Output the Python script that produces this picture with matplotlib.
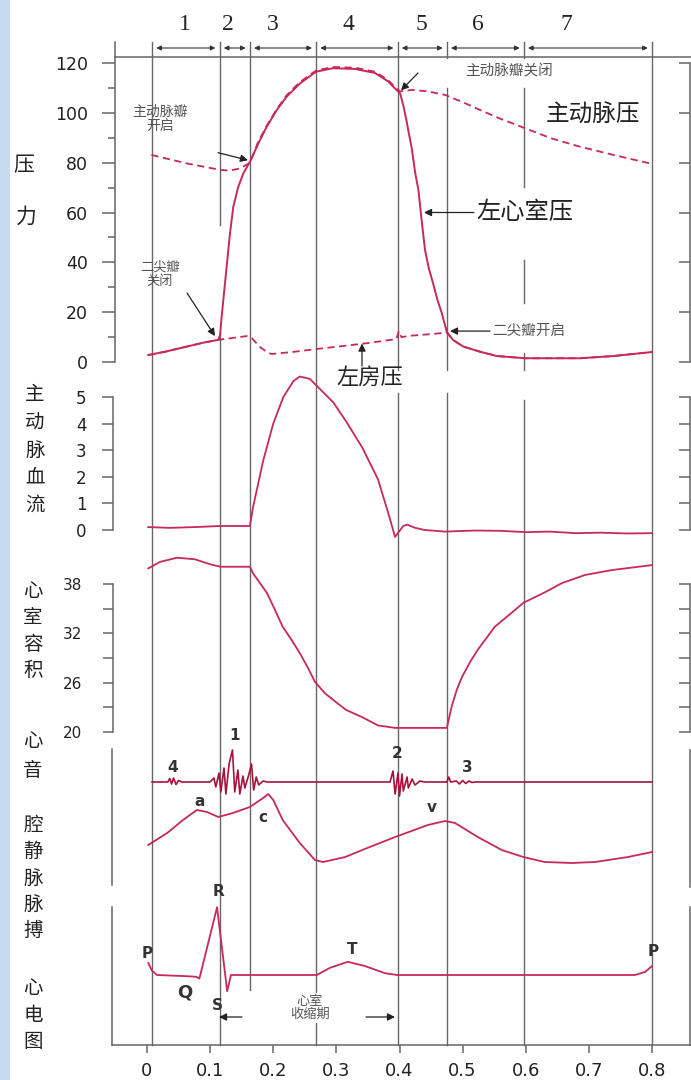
import matplotlib
matplotlib.use("Agg")
import matplotlib.pyplot as plt
from matplotlib.patches import Rectangle

plt.rcParams['font.family'] = ['DejaVu Sans', 'Noto Sans CJK SC']
CJK = ['Noto Sans CJK SC', 'DejaVu Sans']
SERIF = ['Liberation Serif', 'DejaVu Serif']

W, H, DPI = 691, 1080, 100
X0, XS = 147.0, 631.25          # pixel column of t = 0 s, pixels per second
T_LEFT, T_RIGHT = -X0 / XS, (W - X0) / XS


def tx(px):
    """pixel column -> time (s)"""
    return (px - X0) / XS


# ------------------------------------------------------------------ data
phase_bounds = [0.008, 0.115, 0.163, 0.268, 0.397, 0.475, 0.597, 0.800]
phase_labels = ['1', '2', '3', '4', '5', '6', '7']
time_ticks = [0.0, 0.1, 0.2, 0.3, 0.4, 0.5, 0.6, 0.7, 0.8]
pressure_ticks = [0, 20, 40, 60, 80, 100, 120]
pressure_minor = [10, 30, 50, 70, 90, 110]
flow_ticks = [0, 1, 2, 3, 4, 5]
volume_ticks = [20, 26, 32, 38]
volume_minor = [23, 29, 35]

# left ventricular pressure (mmHg)
lv_t = [0.002, 0.030, 0.060, 0.090, 0.113, 0.1157, 0.1183, 0.1220, 0.1262, 0.1315,
        0.1367, 0.1447, 0.1526, 0.1632, 0.1764, 0.1896, 0.2055, 0.2213, 0.2424, 0.2677,
        0.2947, 0.330, 0.361, 0.381, 0.392, 0.401, 0.406, 0.411, 0.415, 0.419,
        0.425, 0.430, 0.435, 0.4404, 0.4465, 0.4531, 0.460, 0.4669, 0.475, 0.485,
        0.501, 0.528, 0.554, 0.599, 0.686, 0.739, 0.800]
lv_p = [2.8, 4.2, 6.0, 7.8, 8.9, 10.8, 18.2, 27.7, 38.3, 51.7,
        62.3, 70.4, 75.7, 80.4, 87.7, 94.4, 101.1, 106.5, 111.8, 116.5,
        117.9, 117.6, 116.0, 112.8, 110.0, 107.8, 103.0, 97.0, 91.5, 86.4,
        75.7, 69.0, 57.0, 45.0, 37.5, 31.7, 25.0, 19.7, 12.0, 8.8,
        6.2, 4.1, 2.4, 1.5, 1.5, 2.4, 4.0]

# aortic pressure (mmHg)
ao_t = [0.007, 0.063, 0.116, 0.131, 0.147, 0.163, 0.176, 0.190, 0.206, 0.221,
        0.242, 0.268, 0.295, 0.330, 0.361, 0.381, 0.392, 0.401, 0.420, 0.445,
        0.472, 0.500, 0.528, 0.560, 0.599, 0.640, 0.686, 0.739, 0.800]
ao_p = [83.1, 79.7, 77.1, 76.8, 77.7, 79.9, 88.3, 95.0, 101.6, 107.0,
        112.3, 117.0, 118.4, 118.1, 116.5, 113.3, 110.6, 108.6, 109.2, 108.6,
        107.2, 104.3, 101.1, 97.6, 93.8, 89.8, 86.4, 83.1, 79.5]

# left atrial pressure (mmHg)
la_t = [0.002, 0.030, 0.060, 0.090, 0.113, 0.140, 0.158, 0.166, 0.179, 0.190,
        0.197, 0.230, 0.268, 0.310, 0.350, 0.395, 0.399, 0.403, 0.420, 0.450,
        0.475, 0.485, 0.501, 0.528, 0.554, 0.599, 0.686, 0.739, 0.800]
la_p = [2.8, 4.2, 6.0, 7.8, 8.9, 9.8, 10.4, 9.6, 6.0, 4.0,
        3.2, 4.0, 5.2, 6.4, 7.6, 9.2, 12.4, 10.0, 10.6, 11.2,
        11.8, 8.8, 6.2, 4.1, 2.4, 1.5, 1.5, 2.4, 4.0]

# aortic blood flow
flow_t = [0.002, 0.036, 0.076, 0.116, 0.163, 0.168, 0.184, 0.200, 0.216, 0.232,
          0.242, 0.258, 0.274, 0.295, 0.315, 0.341, 0.366, 0.382, 0.393, 0.398,
          0.406, 0.412, 0.425, 0.440, 0.472, 0.520, 0.559, 0.600, 0.638, 0.680,
          0.718, 0.760, 0.800]
flow_v = [0.11, 0.08, 0.11, 0.15, 0.15, 0.86, 2.6, 4.0, 5.0, 5.6,
          5.77, 5.68, 5.3, 4.8, 4.1, 3.1, 1.9, 0.65, -0.26, -0.1,
          0.15, 0.2, 0.08, 0.0, -0.06, -0.02, -0.03, -0.08, -0.06, -0.12,
          -0.1, -0.13, -0.12]

# ventricular volume
vol_t = [0.002, 0.021, 0.048, 0.076, 0.100, 0.116, 0.163, 0.168, 0.179, 0.190,
         0.203, 0.215, 0.229, 0.242, 0.255, 0.266, 0.282, 0.295, 0.315, 0.341,
         0.366, 0.393, 0.475, 0.4826, 0.4906, 0.499, 0.5117, 0.524, 0.551, 0.5777,
         0.596, 0.6305, 0.657, 0.694, 0.737, 0.800]
vol_v = [39.9, 40.7, 41.2, 41.0, 40.4, 40.1, 40.1, 39.3, 38.1, 36.9,
         34.8, 32.8, 31.2, 29.6, 27.8, 26.1, 24.7, 23.9, 22.7, 21.8,
         20.8, 20.5, 20.5, 23.1, 25.1, 26.7, 28.5, 30.0, 32.8, 34.5,
         35.7, 37.0, 38.1, 39.1, 39.7, 40.3]

# phonocardiogram (relative amplitude)
hs_t = [0.008, 0.033, 0.036, 0.039, 0.042, 0.046, 0.050, 0.055,
        0.0998, 0.106, 0.109, 0.114, 0.117, 0.122, 0.125, 0.130, 0.1354, 0.139,
        0.144, 0.147, 0.152, 0.155, 0.1616, 0.1655, 0.169, 0.173, 0.177, 0.184, 0.190,
        0.385, 0.3897, 0.393, 0.3976, 0.400, 0.404, 0.406, 0.412, 0.414, 0.420,
        0.4245, 0.4325, 0.440,
        0.475, 0.478, 0.481, 0.490, 0.495, 0.500, 0.505, 0.510, 0.515, 0.520, 0.800]
hs_a = [0, 0, 0.35, -0.2, 0.4, -0.25, 0.15, 0,
        0, 0.4, -0.5, 0.9, -1.0, 1.4, -1.2, 1.8, 3.2, -1.0,
        1.2, -1.2, 0.6, -0.6, 0.8, 1.8, -0.8, 0.5, -0.3, 0.1, 0,
        0, 1.1, -1.2, 0.9, -1.4, 0.8, -0.9, 0.5, -0.6, 0.3,
        -0.3, 0.1, 0,
        0, 0.5, 0, 0.1, -0.2, 0.15, -0.15, 0.1, -0.05, 0, 0]

# jugular venous pulse (relative units)
jvp_t = [0.002, 0.032, 0.057, 0.079, 0.095, 0.113, 0.136, 0.163, 0.184, 0.192,
         0.200, 0.215, 0.242, 0.266, 0.279, 0.314, 0.341, 0.393, 0.445, 0.472,
         0.488, 0.524, 0.562, 0.596, 0.630, 0.673, 0.710, 0.762, 0.800]
jvp_v = [2.5, 3.7, 5.0, 6.0, 5.8, 5.3, 5.7, 6.3, 7.2, 7.6,
         7.0, 5.0, 2.7, 1.0, 0.8, 1.3, 2.0, 3.3, 4.5, 4.9,
         4.7, 3.3, 2.0, 1.3, 0.8, 0.7, 0.8, 1.3, 1.8]

# electrocardiogram (mV)
ecg_t = [0.002, 0.008, 0.016, 0.063, 0.078, 0.083, 0.111, 0.127, 0.133, 0.143,
         0.269, 0.290, 0.318, 0.345, 0.377, 0.396, 0.773, 0.789, 0.800]
ecg_v = [0.20, 0.07, 0.0, -0.02, -0.03, -0.06, 1.13, -0.27, 0.0, 0.0,
         0.0, 0.12, 0.22, 0.15, 0.03, 0.0, 0.0, 0.05, 0.15]

# ------------------------------------------------------------------ style
RED = '#C8285C'
DARKRED = '#A8123C'
GRID = '#666666'
INK = '#222222'
SOFT = '#555555'

fig = plt.figure(figsize=(W / DPI, H / DPI), dpi=DPI)
fig.patch.set_facecolor('white')
fig.patches.append(Rectangle((0, 0), 10 / W, 1, transform=fig.transFigure,
                             facecolor='#C7DBF0', edgecolor='none', zorder=0))

# background layer: x in seconds, y in pixel rows
bg = fig.add_axes([0, 0, 1, 1])
bg.set_xlim(T_LEFT, T_RIGHT)
bg.set_ylim(H, 0)
bg.axis('off')


def panel(ytop, ybot, v_a, y_a, v_b, y_b):
    """Transparent axes over pixel rows ytop..ybot with a linear value scale."""
    def val(y):
        return v_a + (v_b - v_a) * (y - y_a) / (y_b - y_a)
    ax = fig.add_axes([0, 1 - ybot / H, 1, (ybot - ytop) / H])
    ax.set_xlim(T_LEFT, T_RIGHT)
    ax.set_ylim(val(ybot), val(ytop))
    ax.patch.set_visible(False)
    for s in ax.spines.values():
        s.set_visible(False)
    ax.set_xticks([])
    ax.set_yticks([])
    return ax


def value_axis(ax, xpx, lo, hi, major, minor=None, labels=True, length=9.0,
               minor_len=5.0, pad=10, size=12):
    sp = ax.spines['left']
    sp.set_visible(True)
    sp.set_position(('data', tx(xpx)))
    sp.set_bounds(lo, hi)
    sp.set_color(GRID)
    sp.set_linewidth(1.1)
    ax.yaxis.set_ticks_position('left')
    ax.set_yticks(major)
    if minor:
        ax.set_yticks(minor, minor=True)
    ax.tick_params(axis='y', which='major', direction='out', length=length,
                   width=1.1, color=GRID, pad=pad, labelsize=size,
                   labelcolor=INK, labelleft=labels)
    ax.tick_params(axis='y', which='minor', direction='out', length=minor_len,
                   width=1.1, color=GRID)


def vlabel(text, px, py, ls):
    bg.text(tx(px), py, text, family=CJK, fontsize=14, color=INK,
            ha='center', va='center', linespacing=ls)


# phase boundary lines (pixel-row segments)
bound_segments = [
    [(42, 1045)],
    [(42, 225), (333, 1045)],
    [(42, 990)],
    [(42, 1045)],
    [(42, 370), (393, 1045)],
    [(42, 58), (88, 370), (393, 1045)],
    [(42, 58), (88, 187), (260, 303), (353, 370), (400, 1045)],
    [(42, 1045)],
]
for t, segs in zip(phase_bounds, bound_segments):
    for a, b in segs:
        bg.plot([t, t], [a, b], color=GRID, lw=1.0, zorder=1)

# header: phase numbers and spans
bg.plot([tx(115), T_RIGHT], [57, 57], color=GRID, lw=1.1, zorder=1)
phase_label_px = [185, 228, 273, 348, 421, 478, 566]
for lab, px in zip(phase_labels, phase_label_px):
    bg.text(tx(px), 25, lab, family=SERIF, fontsize=17, color=INK,
            ha='center', va='center')
for a, b in zip(phase_bounds[:-1], phase_bounds[1:]):
    bg.annotate('', xy=(a, 48), xytext=(b, 48),
                arrowprops=dict(arrowstyle='<|-|>', color='#333333', lw=0.8,
                                mutation_scale=7, shrinkA=3, shrinkB=3))

# lower left spine segments and right-hand mirrored frame
for a, b in [(749, 885), (907, 1045)]:
    bg.plot([tx(112), tx(112)], [a, b], color=GRID, lw=1.1)
for a, b in [(750, 887), (907, 1045)]:
    bg.plot([tx(690), tx(690)], [a, b], color=GRID, lw=1.1)

# ---------------- pressure
ax_p = panel(30, 380, 0, 362, 120, 63)
value_axis(ax_p, 115, 0, 128.4, pressure_ticks, pressure_minor,
           length=9.5, minor_len=5, pad=10, size=12.5)
ax_pr = panel(30, 380, 0, 362, 120, 63)
value_axis(ax_pr, 690, 0, 120, pressure_ticks, labels=False, length=8)

ax_p.plot(ao_t, ao_p, color=RED, lw=1.3, ls=(0, (4, 2.5)), clip_on=False)
ax_p.plot(la_t, la_p, color=RED, lw=1.3, ls=(0, (4, 2.5)), clip_on=False)
ax_p.plot(lv_t, lv_p, color=RED, lw=1.4, clip_on=False)

arrow_kw = dict(arrowstyle='-|>', color=INK, lw=0.9, mutation_scale=11,
                shrinkA=0, shrinkB=0)
ax_p.annotate('', xy=(tx(248), 81), xytext=(tx(218), 84), arrowprops=arrow_kw)
ax_p.annotate('', xy=(tx(215), 10.4), xytext=(tx(187), 27.7), arrowprops=arrow_kw)
ax_p.annotate('', xy=(tx(401), 109), xytext=(tx(418), 116), arrowprops=arrow_kw)
ax_p.annotate('', xy=(tx(424), 60), xytext=(tx(474), 60), arrowprops=arrow_kw)
ax_p.annotate('', xy=(tx(450), 12.4), xytext=(tx(490), 12.4), arrowprops=arrow_kw)
ax_p.annotate('', xy=(tx(362), 7.4), xytext=(tx(362), -1.6), arrowprops=arrow_kw)

bg.text(tx(160), 119, '主动脉瓣\n开启', family=CJK, fontsize=10, color=SOFT,
        ha='center', va='center', linespacing=1.1)
bg.text(tx(160), 274, '二尖瓣\n关闭', family=CJK, fontsize=9.5, color=SOFT,
        ha='center', va='center', linespacing=1.1)
bg.text(tx(509), 71, '主动脉瓣关闭', family=CJK, fontsize=10.5, color=SOFT,
        ha='center', va='center')
bg.text(tx(492), 331, '二尖瓣开启', family=CJK, fontsize=10.5, color=SOFT,
        ha='left', va='center')
bg.text(tx(593), 115, '主动脉压', family=CJK, fontsize=17, color=INK,
        ha='center', va='center')
bg.text(tx(476), 212, '左心室压', family=CJK, fontsize=17.5, color=INK,
        ha='left', va='center')
bg.text(tx(370), 377, '左房压', family=CJK, fontsize=16, color=INK,
        ha='center', va='center')
bg.text(tx(24), 165, '压', family=CJK, fontsize=15, color=INK, ha='center', va='center')
bg.text(tx(26), 217, '力', family=CJK, fontsize=15, color=INK, ha='center', va='center')

# ---------------- aortic flow
ax_f = panel(380, 545, 0, 530, 5, 397)
value_axis(ax_f, 113, 0, 5, flow_ticks, length=8, pad=11, size=12)
ax_fr = panel(380, 545, 0, 530, 5, 397)
value_axis(ax_fr, 690, 0, 5, flow_ticks, labels=False, length=8)
ax_f.plot(flow_t, flow_v, color=RED, lw=1.3, clip_on=False)
vlabel('主\n动\n脉\n血\n流', 35, 450, 1.41)

# ---------------- ventricular volume
ax_v = panel(545, 740, 20, 732, 38, 584)
value_axis(ax_v, 113, 20, 38, volume_ticks, volume_minor, length=7,
           minor_len=7, pad=15, size=11)
ax_vr = panel(545, 740, 20, 732, 38, 584)
value_axis(ax_vr, 690, 20, 38, volume_ticks, volume_minor, labels=False,
           length=8, minor_len=8)
ax_v.plot(vol_t, vol_v, color=RED, lw=1.3, clip_on=False)
vlabel('心\n室\n容\n积', 33, 631, 1.33)

# ---------------- heart sounds
ax_s = panel(720, 800, 0, 782, 1, 772)
ax_s.plot(hs_t, hs_a, color=DARKRED, lw=1.2, clip_on=False)
for lab, px, py in [('4', 173, 768), ('1', 235, 736), ('2', 397, 754), ('3', 467, 767)]:
    bg.text(tx(px), py, lab, fontsize=11, fontweight='bold', color='#333333',
            ha='center', va='center')
vlabel('心\n音', 33, 756, 1.56)

# ---------------- jugular venous pulse
ax_j = panel(790, 880, 0, 870, 1, 860)
ax_j.plot(jvp_t, jvp_v, color=RED, lw=1.3, clip_on=False)
for lab, px, py in [('a', 200, 802), ('c', 263, 818), ('v', 432, 808)]:
    bg.text(tx(px), py, lab, fontsize=11, fontweight='bold', color='#333333',
            ha='center', va='center')
vlabel('腔\n静\n脉\n脉\n搏', 33, 878, 1.34)

# ---------------- ECG
ax_e = panel(880, 1000, 0, 975, 1, 915)
ax_e.plot(ecg_t, ecg_v, color=RED, lw=1.3, clip_on=False)
for lab, px, py, fs in [('P', 147, 953, 11), ('R', 218, 892, 11), ('Q', 185, 993, 13),
                        ('S', 217, 1005, 11), ('T', 352, 950, 11), ('P', 653, 952, 11)]:
    bg.text(tx(px), py, lab, fontsize=fs, fontweight='bold', color='#333333',
            ha='center', va='center')
vlabel('心\n电\n图', 33, 1015, 1.37)

# ventricular systole bracket
bg.text(tx(310), 1008, '心室\n收缩期', family=CJK, fontsize=9.5, color=SOFT,
        ha='center', va='center', linespacing=1.05, zorder=3,
        bbox=dict(facecolor='white', edgecolor='none', pad=1))
bg.annotate('', xy=(tx(219), 1017), xytext=(tx(242), 1017), arrowprops=arrow_kw)
bg.annotate('', xy=(tx(395), 1017), xytext=(tx(366), 1017), arrowprops=arrow_kw)

# ---------------- time axis
ax_t = fig.add_axes([0, (H - 1045) / H, 1, 30 / H])
ax_t.set_xlim(T_LEFT, T_RIGHT)
ax_t.patch.set_visible(False)
for name, s in ax_t.spines.items():
    s.set_visible(name == 'bottom')
ax_t.spines['bottom'].set_bounds(tx(112), T_RIGHT)
ax_t.spines['bottom'].set_color(GRID)
ax_t.spines['bottom'].set_linewidth(1.1)
ax_t.set_yticks([])
ax_t.set_xticks(time_ticks)
ax_t.set_xticklabels([f'{v:g}' for v in time_ticks])
ax_t.tick_params(axis='x', direction='out', length=6, width=1.1, color=GRID,
                 pad=6, labelsize=13, labelcolor=INK)

fig.savefig('out.png', dpi=DPI, facecolor='white')
